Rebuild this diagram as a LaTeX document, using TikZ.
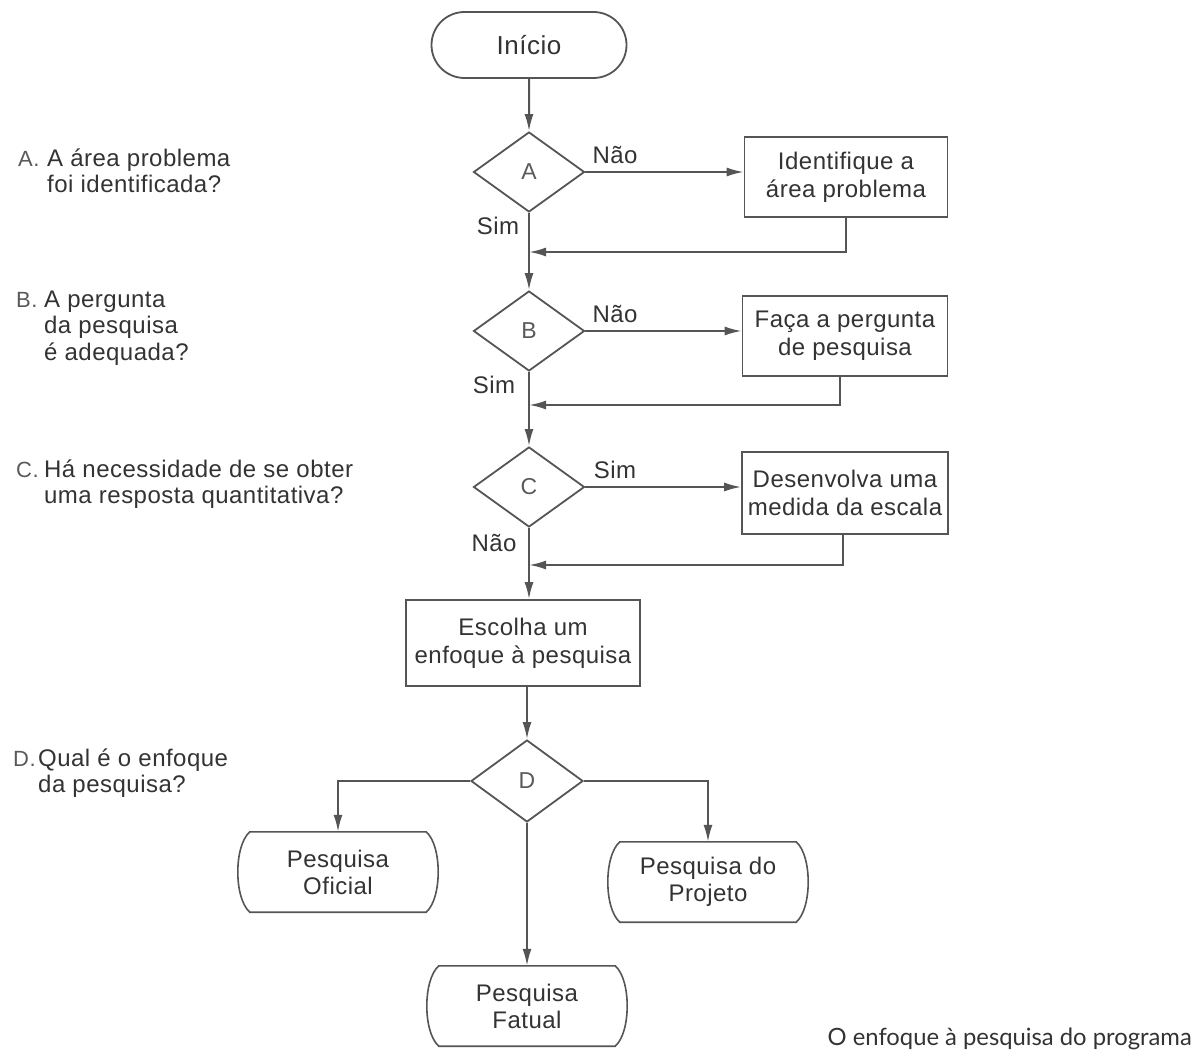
\documentclass[tikz,border=0pt]{standalone}
\usepackage{fontspec}
\setmainfont{Liberation Sans}[LetterSpace=2]
\newfontfamily\capfont{Lato}
\usetikzlibrary{shapes.geometric,shapes.misc,arrows.meta,calc}

\definecolor{ink}{HTML}{333333}
\definecolor{linec}{HTML}{555555}
\definecolor{letterc}{HTML}{5A5A5A}

\begin{document}
\begin{tikzpicture}[x=1pt,y=-1pt,
  font=\fontsize{24}{26.5}\selectfont, text=ink,
  line/.style={draw=linec,line width=2pt},
  arr/.style={line,-{Latex[length=17pt,width=9pt]}},
  startbox/.style={draw=linec,line width=1.8pt,rounded rectangle,
    minimum width=195pt,minimum height=66pt,inner sep=0pt,
    font=\fontsize{26}{28}\selectfont},
  decision/.style={draw=linec,line width=1.8pt,diamond,
    minimum width=111pt,minimum height=80pt,inner sep=0pt,
    text=letterc,font=\fontsize{23}{25}\selectfont},
  procbox/.style={draw=linec,line width=1.6pt,rectangle,align=center,
    minimum height=80pt,inner sep=0pt,font=\fontsize{24}{28}\selectfont},
  endbox/.style={align=center,minimum width=176pt,minimum height=80pt,
    inner sep=0pt,font=\fontsize{24}{27}\selectfont},
  lbl/.style={inner sep=0pt},
  question/.style={anchor=base west,align=left,inner sep=0pt},
  qletter/.style={anchor=base west,inner sep=0pt,text=letterc,
    font=\fontsize{22}{26.5}\selectfont}
]
\useasboundingbox[fill=white] (0,0) rectangle (1195,1057);

% main column
\node[startbox] (start) at (529,45) {Início};
\node[decision] (A) at (529,172) {A};
\node[decision] (B) at (529,331) {B};
\node[decision] (C) at (529,487) {C};
\node[procbox,minimum width=234pt,minimum height=86pt] (esc) at (523,643)
  {Escolha um\\enfoque à pesquisa};
\node[decision,minimum width=112pt,minimum height=82pt] (D) at (527,781) {D};

% side actions
\node[procbox,minimum width=203pt] (pA) at (846,177) {Identifique a\\área problema};
\node[procbox,minimum width=205pt] (pB) at (845,336) {Faça a pergunta\\de pesquisa};
\node[procbox,minimum width=206pt,minimum height=82pt] (pC) at (845,493)
  {Desenvolva uma\\medida da escala};

% outcomes
\node[endbox] (off) at (338,872) {Pesquisa\\Oficial};
\node[endbox] (proj) at (708,882) {Pesquisa do\\Projeto};
\node[endbox] (fat) at (527,1006) {Pesquisa\\Fatual};
\foreach \n in {off,proj,fat}{
  \draw[draw=linec,line width=1.6pt]
    (\n.north west) -- (\n.north east)
    .. controls +(16,14) and +(16,-14) .. (\n.south east)
    -- (\n.south west)
    .. controls +(-16,-14) and +(-16,14) .. cycle;
}

% merge points on the main line
\coordinate (jA) at (529,252);
\coordinate (jB) at (529,405);
\coordinate (jC) at (529,565);

% connectors
\draw[arr] (start) -- (A);
\draw[arr] (A.east) -- (A.east -| pA.west);
\draw[arr] (pA.south) |- (jA);
\draw[arr] (A) -- (B);
\draw[arr] (B.east) -- (B.east -| pB.west);
\draw[arr] (pB.south -| 840,0) |- (jB);
\draw[arr] (B) -- (C);
\draw[arr] (C.east) -- (C.east -| pC.west);
\draw[arr] (pC.south -| 843,0) |- (jC);
\draw[arr] (C.south) -- (C.south |- esc.north);
\draw[arr] (esc.south -| D.north) -- (D.north);
\draw[arr] (D.west) -| (off.north);
\draw[arr] (D.east) -| (proj.north);
\draw[arr] (D.south) -- (fat.north);

% branch labels
\node[lbl] (nA) at (615,155) {Não};
\node[lbl] (sA) at (498,226) {Sim};
\node[lbl] (nB) at (615,314) {Não};
\node[lbl] (sB) at (494,385) {Sim};
\node[lbl] (sC) at (615,470) {Sim};
\node[lbl] (nC) at (494,543) {Não};

% questions (base anchor sits on the last line)
\node[qletter] (lA) at (18,166) {A.};
\node[question] (qA) at (47,192.5) {A área problema\\foi identificada?};
\node[qletter] (lB) at (16,307) {B.};
\node[question] (qB) at (44,360) {A pergunta\\da pesquisa\\é adequada?};
\node[qletter] (lC) at (16,477) {C.};
\node[question] (qC) at (44,503.5) {Há necessidade de se obter\\uma resposta quantitativa?};
\node[qletter] (lD) at (13,766) {D.};
\node[question] (qD) at (38,792.5) {Qual é o enfoque\\da pesquisa?};

% caption
\node[anchor=base east,inner sep=0pt,font=\capfont\fontsize{23.8}{28}\selectfont]
  (cap) at (1192,1045) {O enfoque à pesquisa do programa};
\end{tikzpicture}
\end{document}
